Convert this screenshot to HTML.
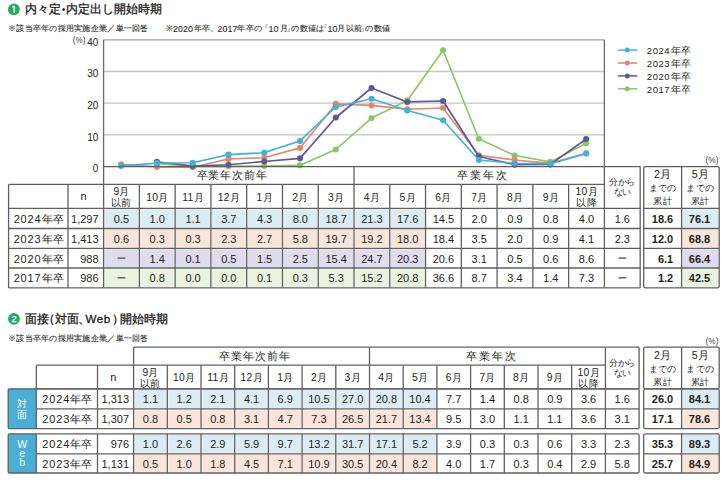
<!DOCTYPE html>
<html><head><meta charset="utf-8"><style>
html,body{margin:0;padding:0;background:#fff;}
body{width:728px;height:485px;position:relative;overflow:hidden;font-family:"Liberation Sans", sans-serif;}
svg{position:absolute;left:0;top:0;}
.t{position:absolute;white-space:nowrap;}
</style></head><body>
<svg width="728" height="485" viewBox="0 0 728 485">
<circle cx="63.6" cy="9.6" r="1.35" fill="#1a1a1a"/>
<circle cx="13.9" cy="9.4" r="5.9" fill="#21ab63"/>
<path d="M14.2 6.00 V12.90 M12.4 7.30 L14.2 6.00" stroke="#fff" stroke-width="1.35" fill="none"/>
<line x1="103.6" y1="134.9" x2="604.4" y2="134.9" stroke="#c4c4c4" stroke-width="1.3"/>
<line x1="103.6" y1="103.19999999999999" x2="604.4" y2="103.19999999999999" stroke="#c4c4c4" stroke-width="1.3"/>
<line x1="103.6" y1="71.5" x2="604.4" y2="71.5" stroke="#c4c4c4" stroke-width="1.3"/>
<line x1="103.6" y1="39.8" x2="604.4" y2="39.8" stroke="#a5a5a5" stroke-width="1.3"/>
<line x1="103.6" y1="39.8" x2="103.6" y2="166.6" stroke="#6a6a6a" stroke-width="1.3"/>
<line x1="604.4" y1="39.8" x2="604.4" y2="166.6" stroke="#6a6a6a" stroke-width="1.3"/>
<polyline fill="none" stroke="#8bc764" stroke-width="1.65" stroke-linejoin="round" points="156.9,163.8 192.7,166.3 228.4,166.3 264.2,166.0 300.0,165.3 335.8,149.5 371.5,118.1 407.3,100.4 443.1,50.3 478.8,138.7 514.6,155.5 550.4,161.9 586.2,143.2"/>
<circle cx="156.91" cy="163.76" r="3.05" fill="#8bc764"/>
<circle cx="192.68" cy="166.30" r="3.05" fill="#8bc764"/>
<circle cx="228.45" cy="166.30" r="3.05" fill="#8bc764"/>
<circle cx="264.22" cy="165.98" r="3.05" fill="#8bc764"/>
<circle cx="299.99" cy="165.35" r="3.05" fill="#8bc764"/>
<circle cx="335.76" cy="149.50" r="3.05" fill="#8bc764"/>
<circle cx="371.54" cy="118.12" r="3.05" fill="#8bc764"/>
<circle cx="407.31" cy="100.36" r="3.05" fill="#8bc764"/>
<circle cx="443.08" cy="50.28" r="3.05" fill="#8bc764"/>
<circle cx="478.85" cy="138.72" r="3.05" fill="#8bc764"/>
<circle cx="514.62" cy="155.52" r="3.05" fill="#8bc764"/>
<circle cx="550.39" cy="161.86" r="3.05" fill="#8bc764"/>
<circle cx="586.16" cy="143.16" r="3.05" fill="#8bc764"/>
<polyline fill="none" stroke="#e5856c" stroke-width="1.65" stroke-linejoin="round" points="121.1,164.4 156.9,166.9 192.7,167.3 228.4,159.0 264.2,157.7 300.0,147.9 335.8,103.9 371.5,105.4 407.3,109.2 443.1,108.0 478.8,155.2 514.6,160.0 550.4,163.4 586.2,153.3"/>
<circle cx="121.14" cy="164.40" r="3.05" fill="#e5856c"/>
<circle cx="156.91" cy="166.93" r="3.05" fill="#e5856c"/>
<circle cx="192.68" cy="167.25" r="3.05" fill="#e5856c"/>
<circle cx="228.45" cy="159.01" r="3.05" fill="#e5856c"/>
<circle cx="264.22" cy="157.74" r="3.05" fill="#e5856c"/>
<circle cx="299.99" cy="147.91" r="3.05" fill="#e5856c"/>
<circle cx="335.76" cy="103.85" r="3.05" fill="#e5856c"/>
<circle cx="371.54" cy="105.44" r="3.05" fill="#e5856c"/>
<circle cx="407.31" cy="109.24" r="3.05" fill="#e5856c"/>
<circle cx="443.08" cy="107.97" r="3.05" fill="#e5856c"/>
<circle cx="478.85" cy="155.20" r="3.05" fill="#e5856c"/>
<circle cx="514.62" cy="159.96" r="3.05" fill="#e5856c"/>
<circle cx="550.39" cy="163.45" r="3.05" fill="#e5856c"/>
<circle cx="586.16" cy="153.30" r="3.05" fill="#e5856c"/>
<polyline fill="none" stroke="#5d5893" stroke-width="1.65" stroke-linejoin="round" points="156.9,161.9 192.7,166.0 228.4,164.7 264.2,161.5 300.0,158.4 335.8,117.5 371.5,88.0 407.3,101.9 443.1,101.0 478.8,156.5 514.6,164.7 550.4,164.4 586.2,139.0"/>
<circle cx="156.91" cy="161.86" r="3.05" fill="#5d5893"/>
<circle cx="192.68" cy="165.98" r="3.05" fill="#5d5893"/>
<circle cx="228.45" cy="164.71" r="3.05" fill="#5d5893"/>
<circle cx="264.22" cy="161.54" r="3.05" fill="#5d5893"/>
<circle cx="299.99" cy="158.37" r="3.05" fill="#5d5893"/>
<circle cx="335.76" cy="117.48" r="3.05" fill="#5d5893"/>
<circle cx="371.54" cy="88.00" r="3.05" fill="#5d5893"/>
<circle cx="407.31" cy="101.95" r="3.05" fill="#5d5893"/>
<circle cx="443.08" cy="101.00" r="3.05" fill="#5d5893"/>
<circle cx="478.85" cy="156.47" r="3.05" fill="#5d5893"/>
<circle cx="514.62" cy="164.71" r="3.05" fill="#5d5893"/>
<circle cx="550.39" cy="164.40" r="3.05" fill="#5d5893"/>
<circle cx="586.16" cy="139.04" r="3.05" fill="#5d5893"/>
<polyline fill="none" stroke="#43b0d9" stroke-width="1.65" stroke-linejoin="round" points="121.1,166.0 156.9,163.1 192.7,162.8 228.4,154.6 264.2,152.7 300.0,140.9 335.8,107.0 371.5,98.8 407.3,110.5 443.1,120.3 478.8,160.0 514.6,163.4 550.4,163.8 586.2,153.6"/>
<circle cx="121.14" cy="165.98" r="3.05" fill="#43b0d9"/>
<circle cx="156.91" cy="163.13" r="3.05" fill="#43b0d9"/>
<circle cx="192.68" cy="162.81" r="3.05" fill="#43b0d9"/>
<circle cx="228.45" cy="154.57" r="3.05" fill="#43b0d9"/>
<circle cx="264.22" cy="152.67" r="3.05" fill="#43b0d9"/>
<circle cx="299.99" cy="140.94" r="3.05" fill="#43b0d9"/>
<circle cx="335.76" cy="107.02" r="3.05" fill="#43b0d9"/>
<circle cx="371.54" cy="98.78" r="3.05" fill="#43b0d9"/>
<circle cx="407.31" cy="110.51" r="3.05" fill="#43b0d9"/>
<circle cx="443.08" cy="120.33" r="3.05" fill="#43b0d9"/>
<circle cx="478.85" cy="159.96" r="3.05" fill="#43b0d9"/>
<circle cx="514.62" cy="163.45" r="3.05" fill="#43b0d9"/>
<circle cx="550.39" cy="163.76" r="3.05" fill="#43b0d9"/>
<circle cx="586.16" cy="153.62" r="3.05" fill="#43b0d9"/>
<line x1="618" y1="50.1" x2="637.4" y2="50.1" stroke="#43b0d9" stroke-width="1.5"/>
<circle cx="627.3" cy="50.1" r="2.5" fill="#43b0d9"/>
<line x1="618" y1="63.0" x2="637.4" y2="63.0" stroke="#e5856c" stroke-width="1.5"/>
<circle cx="627.3" cy="63.0" r="2.5" fill="#e5856c"/>
<line x1="618" y1="75.9" x2="637.4" y2="75.9" stroke="#5d5893" stroke-width="1.5"/>
<circle cx="627.3" cy="75.9" r="2.5" fill="#5d5893"/>
<line x1="618" y1="88.80000000000001" x2="637.4" y2="88.80000000000001" stroke="#8bc764" stroke-width="1.5"/>
<circle cx="627.3" cy="88.80000000000001" r="2.5" fill="#8bc764"/>
<rect x="104.5" y="209.3" width="33.97142857142857" height="18.299999999999994" fill="#dcecf5"/>
<rect x="140.27142857142857" y="209.3" width="33.97142857142857" height="18.299999999999994" fill="#dcecf5"/>
<rect x="176.04285714285712" y="209.3" width="33.97142857142857" height="18.299999999999994" fill="#dcecf5"/>
<rect x="211.8142857142857" y="209.3" width="33.97142857142857" height="18.299999999999994" fill="#dcecf5"/>
<rect x="247.58571428571426" y="209.3" width="33.97142857142857" height="18.299999999999994" fill="#dcecf5"/>
<rect x="283.3571428571428" y="209.3" width="33.97142857142857" height="18.299999999999994" fill="#dcecf5"/>
<rect x="319.1285714285714" y="209.3" width="33.97142857142857" height="18.299999999999994" fill="#dcecf5"/>
<rect x="354.8999999999999" y="209.3" width="33.97142857142857" height="18.299999999999994" fill="#dcecf5"/>
<rect x="390.67142857142846" y="209.3" width="33.97142857142857" height="18.299999999999994" fill="#dcecf5"/>
<rect x="682.5" y="209.3" width="35.800000000000026" height="18.299999999999994" fill="#dcecf5"/>
<rect x="104.5" y="229.4" width="33.97142857142857" height="18.100000000000005" fill="#fbe5db"/>
<rect x="140.27142857142857" y="229.4" width="33.97142857142857" height="18.100000000000005" fill="#fbe5db"/>
<rect x="176.04285714285712" y="229.4" width="33.97142857142857" height="18.100000000000005" fill="#fbe5db"/>
<rect x="211.8142857142857" y="229.4" width="33.97142857142857" height="18.100000000000005" fill="#fbe5db"/>
<rect x="247.58571428571426" y="229.4" width="33.97142857142857" height="18.100000000000005" fill="#fbe5db"/>
<rect x="283.3571428571428" y="229.4" width="33.97142857142857" height="18.100000000000005" fill="#fbe5db"/>
<rect x="319.1285714285714" y="229.4" width="33.97142857142857" height="18.100000000000005" fill="#fbe5db"/>
<rect x="354.8999999999999" y="229.4" width="33.97142857142857" height="18.100000000000005" fill="#fbe5db"/>
<rect x="390.67142857142846" y="229.4" width="33.97142857142857" height="18.100000000000005" fill="#fbe5db"/>
<rect x="682.5" y="229.4" width="35.800000000000026" height="18.100000000000005" fill="#fbe5db"/>
<rect x="104.5" y="249.3" width="33.97142857142857" height="17.799999999999994" fill="#dedced"/>
<rect x="140.27142857142857" y="249.3" width="33.97142857142857" height="17.799999999999994" fill="#dedced"/>
<rect x="176.04285714285712" y="249.3" width="33.97142857142857" height="17.799999999999994" fill="#dedced"/>
<rect x="211.8142857142857" y="249.3" width="33.97142857142857" height="17.799999999999994" fill="#dedced"/>
<rect x="247.58571428571426" y="249.3" width="33.97142857142857" height="17.799999999999994" fill="#dedced"/>
<rect x="283.3571428571428" y="249.3" width="33.97142857142857" height="17.799999999999994" fill="#dedced"/>
<rect x="319.1285714285714" y="249.3" width="33.97142857142857" height="17.799999999999994" fill="#dedced"/>
<rect x="354.8999999999999" y="249.3" width="33.97142857142857" height="17.799999999999994" fill="#dedced"/>
<rect x="390.67142857142846" y="249.3" width="33.97142857142857" height="17.799999999999994" fill="#dedced"/>
<rect x="682.5" y="249.3" width="35.800000000000026" height="17.799999999999994" fill="#dedced"/>
<rect x="104.5" y="268.9" width="33.97142857142857" height="18.099999999999977" fill="#eaf3df"/>
<rect x="140.27142857142857" y="268.9" width="33.97142857142857" height="18.099999999999977" fill="#eaf3df"/>
<rect x="176.04285714285712" y="268.9" width="33.97142857142857" height="18.099999999999977" fill="#eaf3df"/>
<rect x="211.8142857142857" y="268.9" width="33.97142857142857" height="18.099999999999977" fill="#eaf3df"/>
<rect x="247.58571428571426" y="268.9" width="33.97142857142857" height="18.099999999999977" fill="#eaf3df"/>
<rect x="283.3571428571428" y="268.9" width="33.97142857142857" height="18.099999999999977" fill="#eaf3df"/>
<rect x="319.1285714285714" y="268.9" width="33.97142857142857" height="18.099999999999977" fill="#eaf3df"/>
<rect x="354.8999999999999" y="268.9" width="33.97142857142857" height="18.099999999999977" fill="#eaf3df"/>
<rect x="390.67142857142846" y="268.9" width="33.97142857142857" height="18.099999999999977" fill="#eaf3df"/>
<rect x="682.5" y="268.9" width="35.800000000000026" height="18.099999999999977" fill="#eaf3df"/>
<line x1="103.6" y1="166.6" x2="640.1714285714286" y2="166.6" stroke="#606060" stroke-width="1.3"/>
<line x1="353.99999999999994" y1="166.6" x2="353.99999999999994" y2="287.9" stroke="#606060" stroke-width="1.3"/>
<line x1="103.6" y1="166.6" x2="103.6" y2="287.9" stroke="#606060" stroke-width="1.3"/>
<line x1="604.4" y1="166.6" x2="604.4" y2="287.9" stroke="#606060" stroke-width="1.3"/>
<line x1="640.1714285714286" y1="166.6" x2="640.1714285714286" y2="287.9" stroke="#606060" stroke-width="1.3"/>
<line x1="8.6" y1="184.4" x2="604.4" y2="184.4" stroke="#606060" stroke-width="1.3"/>
<line x1="8.6" y1="184.4" x2="8.6" y2="287.9" stroke="#606060" stroke-width="1.3"/>
<line x1="68.0" y1="184.4" x2="68.0" y2="287.9" stroke="#606060" stroke-width="1.3"/>
<line x1="139.37142857142857" y1="184.4" x2="139.37142857142857" y2="287.9" stroke="#606060" stroke-width="1.3"/>
<line x1="175.1428571428571" y1="184.4" x2="175.1428571428571" y2="287.9" stroke="#606060" stroke-width="1.3"/>
<line x1="210.91428571428568" y1="184.4" x2="210.91428571428568" y2="287.9" stroke="#606060" stroke-width="1.3"/>
<line x1="246.68571428571425" y1="184.4" x2="246.68571428571425" y2="287.9" stroke="#606060" stroke-width="1.3"/>
<line x1="282.4571428571428" y1="184.4" x2="282.4571428571428" y2="287.9" stroke="#606060" stroke-width="1.3"/>
<line x1="318.2285714285714" y1="184.4" x2="318.2285714285714" y2="287.9" stroke="#606060" stroke-width="1.3"/>
<line x1="389.7714285714285" y1="184.4" x2="389.7714285714285" y2="287.9" stroke="#606060" stroke-width="1.3"/>
<line x1="425.5428571428571" y1="184.4" x2="425.5428571428571" y2="287.9" stroke="#606060" stroke-width="1.3"/>
<line x1="461.3142857142857" y1="184.4" x2="461.3142857142857" y2="287.9" stroke="#606060" stroke-width="1.3"/>
<line x1="497.0857142857142" y1="184.4" x2="497.0857142857142" y2="287.9" stroke="#606060" stroke-width="1.3"/>
<line x1="532.8571428571428" y1="184.4" x2="532.8571428571428" y2="287.9" stroke="#606060" stroke-width="1.3"/>
<line x1="568.6285714285714" y1="184.4" x2="568.6285714285714" y2="287.9" stroke="#606060" stroke-width="1.3"/>
<line x1="8.6" y1="208.4" x2="640.1714285714286" y2="208.4" stroke="#606060" stroke-width="1.3"/>
<line x1="8.6" y1="228.5" x2="640.1714285714286" y2="228.5" stroke="#606060" stroke-width="1.3"/>
<line x1="8.6" y1="248.4" x2="640.1714285714286" y2="248.4" stroke="#606060" stroke-width="1.3"/>
<line x1="8.6" y1="268.0" x2="640.1714285714286" y2="268.0" stroke="#606060" stroke-width="1.3"/>
<line x1="8.6" y1="287.9" x2="640.1714285714286" y2="287.9" stroke="#606060" stroke-width="1.3"/>
<rect x="643.7" y="166.6" width="75.5" height="121.29999999999998" rx="1.5" fill="none" stroke="#606060" stroke-width="1.3"/>
<line x1="681.6" y1="166.6" x2="681.6" y2="287.9" stroke="#606060" stroke-width="1.3"/>
<line x1="643.7" y1="208.4" x2="719.2" y2="208.4" stroke="#606060" stroke-width="1.3"/>
<line x1="643.7" y1="228.5" x2="719.2" y2="228.5" stroke="#606060" stroke-width="1.3"/>
<line x1="643.7" y1="248.4" x2="719.2" y2="248.4" stroke="#606060" stroke-width="1.3"/>
<line x1="643.7" y1="268.0" x2="719.2" y2="268.0" stroke="#606060" stroke-width="1.3"/>
<rect x="117.59" y="257.45" width="7.8" height="1.25" fill="#484848"/>
<rect x="618.39" y="257.45" width="7.8" height="1.25" fill="#484848"/>
<rect x="117.59" y="277.20" width="7.8" height="1.25" fill="#484848"/>
<rect x="618.39" y="277.20" width="7.8" height="1.25" fill="#484848"/>
<circle cx="13.9" cy="318.9" r="5.9" fill="#21ab63"/>
<rect x="134.5" y="389.7" width="31.899999999999995" height="18.2" fill="#dcecf5"/>
<rect x="168.2" y="389.7" width="31.899999999999995" height="18.2" fill="#dcecf5"/>
<rect x="201.9" y="389.7" width="31.899999999999995" height="18.2" fill="#dcecf5"/>
<rect x="235.6" y="389.7" width="31.899999999999995" height="18.2" fill="#dcecf5"/>
<rect x="269.29999999999995" y="389.7" width="31.899999999999995" height="18.2" fill="#dcecf5"/>
<rect x="302.99999999999994" y="389.7" width="31.899999999999995" height="18.2" fill="#dcecf5"/>
<rect x="336.69999999999993" y="389.7" width="31.899999999999995" height="18.2" fill="#dcecf5"/>
<rect x="370.4" y="389.7" width="31.899999999999995" height="18.2" fill="#dcecf5"/>
<rect x="404.0999999999999" y="389.7" width="31.899999999999995" height="18.2" fill="#dcecf5"/>
<rect x="682.5" y="389.7" width="35.800000000000026" height="18.2" fill="#dcecf5"/>
<rect x="134.5" y="409.7" width="31.899999999999995" height="18.099999999999977" fill="#fbe5db"/>
<rect x="168.2" y="409.7" width="31.899999999999995" height="18.099999999999977" fill="#fbe5db"/>
<rect x="201.9" y="409.7" width="31.899999999999995" height="18.099999999999977" fill="#fbe5db"/>
<rect x="235.6" y="409.7" width="31.899999999999995" height="18.099999999999977" fill="#fbe5db"/>
<rect x="269.29999999999995" y="409.7" width="31.899999999999995" height="18.099999999999977" fill="#fbe5db"/>
<rect x="302.99999999999994" y="409.7" width="31.899999999999995" height="18.099999999999977" fill="#fbe5db"/>
<rect x="336.69999999999993" y="409.7" width="31.899999999999995" height="18.099999999999977" fill="#fbe5db"/>
<rect x="370.4" y="409.7" width="31.899999999999995" height="18.099999999999977" fill="#fbe5db"/>
<rect x="404.0999999999999" y="409.7" width="31.899999999999995" height="18.099999999999977" fill="#fbe5db"/>
<rect x="682.5" y="409.7" width="35.800000000000026" height="18.099999999999977" fill="#fbe5db"/>
<rect x="8.2" y="388.8" width="28.099999999999998" height="39.89999999999998" fill="#4aaed5"/>
<rect x="134.5" y="434.7" width="31.899999999999995" height="18.2" fill="#dcecf5"/>
<rect x="168.2" y="434.7" width="31.899999999999995" height="18.2" fill="#dcecf5"/>
<rect x="201.9" y="434.7" width="31.899999999999995" height="18.2" fill="#dcecf5"/>
<rect x="235.6" y="434.7" width="31.899999999999995" height="18.2" fill="#dcecf5"/>
<rect x="269.29999999999995" y="434.7" width="31.899999999999995" height="18.2" fill="#dcecf5"/>
<rect x="302.99999999999994" y="434.7" width="31.899999999999995" height="18.2" fill="#dcecf5"/>
<rect x="336.69999999999993" y="434.7" width="31.899999999999995" height="18.2" fill="#dcecf5"/>
<rect x="370.4" y="434.7" width="31.899999999999995" height="18.2" fill="#dcecf5"/>
<rect x="404.0999999999999" y="434.7" width="31.899999999999995" height="18.2" fill="#dcecf5"/>
<rect x="682.5" y="434.7" width="35.800000000000026" height="18.2" fill="#dcecf5"/>
<rect x="134.5" y="454.7" width="31.899999999999995" height="17.399999999999988" fill="#fbe5db"/>
<rect x="168.2" y="454.7" width="31.899999999999995" height="17.399999999999988" fill="#fbe5db"/>
<rect x="201.9" y="454.7" width="31.899999999999995" height="17.399999999999988" fill="#fbe5db"/>
<rect x="235.6" y="454.7" width="31.899999999999995" height="17.399999999999988" fill="#fbe5db"/>
<rect x="269.29999999999995" y="454.7" width="31.899999999999995" height="17.399999999999988" fill="#fbe5db"/>
<rect x="302.99999999999994" y="454.7" width="31.899999999999995" height="17.399999999999988" fill="#fbe5db"/>
<rect x="336.69999999999993" y="454.7" width="31.899999999999995" height="17.399999999999988" fill="#fbe5db"/>
<rect x="370.4" y="454.7" width="31.899999999999995" height="17.399999999999988" fill="#fbe5db"/>
<rect x="404.0999999999999" y="454.7" width="31.899999999999995" height="17.399999999999988" fill="#fbe5db"/>
<rect x="682.5" y="454.7" width="35.800000000000026" height="17.399999999999988" fill="#fbe5db"/>
<rect x="8.2" y="433.8" width="28.099999999999998" height="39.19999999999999" fill="#4aaed5"/>
<line x1="133.6" y1="347.2" x2="639.1" y2="347.2" stroke="#606060" stroke-width="1.3"/>
<line x1="133.6" y1="347.2" x2="133.6" y2="388.8" stroke="#606060" stroke-width="1.3"/>
<line x1="369.5" y1="347.2" x2="369.5" y2="388.8" stroke="#606060" stroke-width="1.3"/>
<line x1="605.4" y1="347.2" x2="605.4" y2="388.8" stroke="#606060" stroke-width="1.3"/>
<line x1="639.1" y1="347.2" x2="639.1" y2="388.8" stroke="#606060" stroke-width="1.3"/>
<line x1="36.3" y1="365.2" x2="605.4" y2="365.2" stroke="#606060" stroke-width="1.3"/>
<line x1="36.3" y1="365.2" x2="36.3" y2="388.8" stroke="#606060" stroke-width="1.3"/>
<line x1="97.5" y1="365.2" x2="97.5" y2="388.8" stroke="#606060" stroke-width="1.3"/>
<line x1="167.29999999999998" y1="365.2" x2="167.29999999999998" y2="388.8" stroke="#606060" stroke-width="1.3"/>
<line x1="201.0" y1="365.2" x2="201.0" y2="388.8" stroke="#606060" stroke-width="1.3"/>
<line x1="234.7" y1="365.2" x2="234.7" y2="388.8" stroke="#606060" stroke-width="1.3"/>
<line x1="268.4" y1="365.2" x2="268.4" y2="388.8" stroke="#606060" stroke-width="1.3"/>
<line x1="302.09999999999997" y1="365.2" x2="302.09999999999997" y2="388.8" stroke="#606060" stroke-width="1.3"/>
<line x1="335.79999999999995" y1="365.2" x2="335.79999999999995" y2="388.8" stroke="#606060" stroke-width="1.3"/>
<line x1="403.19999999999993" y1="365.2" x2="403.19999999999993" y2="388.8" stroke="#606060" stroke-width="1.3"/>
<line x1="436.9" y1="365.2" x2="436.9" y2="388.8" stroke="#606060" stroke-width="1.3"/>
<line x1="470.5999999999999" y1="365.2" x2="470.5999999999999" y2="388.8" stroke="#606060" stroke-width="1.3"/>
<line x1="504.29999999999995" y1="365.2" x2="504.29999999999995" y2="388.8" stroke="#606060" stroke-width="1.3"/>
<line x1="538.0" y1="365.2" x2="538.0" y2="388.8" stroke="#606060" stroke-width="1.3"/>
<line x1="571.6999999999999" y1="365.2" x2="571.6999999999999" y2="388.8" stroke="#606060" stroke-width="1.3"/>
<line x1="36.3" y1="388.8" x2="639.1" y2="388.8" stroke="#606060" stroke-width="1.3"/>
<rect x="643.7" y="347.2" width="75.5" height="41.60000000000002" rx="1.5" fill="none" stroke="#606060" stroke-width="1.3"/>
<line x1="681.6" y1="347.2" x2="681.6" y2="388.8" stroke="#606060" stroke-width="1.3"/>
<rect x="8.2" y="388.8" width="630.9" height="39.89999999999998" rx="1.2" fill="none" stroke="#606060" stroke-width="1.3"/>
<line x1="36.3" y1="408.8" x2="639.1" y2="408.8" stroke="#606060" stroke-width="1.3"/>
<line x1="36.3" y1="388.8" x2="36.3" y2="428.7" stroke="#606060" stroke-width="1.3"/>
<line x1="97.5" y1="388.8" x2="97.5" y2="428.7" stroke="#606060" stroke-width="1.3"/>
<line x1="133.6" y1="388.8" x2="133.6" y2="428.7" stroke="#606060" stroke-width="1.3"/>
<line x1="167.29999999999998" y1="388.8" x2="167.29999999999998" y2="428.7" stroke="#606060" stroke-width="1.3"/>
<line x1="201.0" y1="388.8" x2="201.0" y2="428.7" stroke="#606060" stroke-width="1.3"/>
<line x1="234.7" y1="388.8" x2="234.7" y2="428.7" stroke="#606060" stroke-width="1.3"/>
<line x1="268.4" y1="388.8" x2="268.4" y2="428.7" stroke="#606060" stroke-width="1.3"/>
<line x1="302.09999999999997" y1="388.8" x2="302.09999999999997" y2="428.7" stroke="#606060" stroke-width="1.3"/>
<line x1="335.79999999999995" y1="388.8" x2="335.79999999999995" y2="428.7" stroke="#606060" stroke-width="1.3"/>
<line x1="369.5" y1="388.8" x2="369.5" y2="428.7" stroke="#606060" stroke-width="1.3"/>
<line x1="403.19999999999993" y1="388.8" x2="403.19999999999993" y2="428.7" stroke="#606060" stroke-width="1.3"/>
<line x1="436.9" y1="388.8" x2="436.9" y2="428.7" stroke="#606060" stroke-width="1.3"/>
<line x1="470.5999999999999" y1="388.8" x2="470.5999999999999" y2="428.7" stroke="#606060" stroke-width="1.3"/>
<line x1="504.29999999999995" y1="388.8" x2="504.29999999999995" y2="428.7" stroke="#606060" stroke-width="1.3"/>
<line x1="538.0" y1="388.8" x2="538.0" y2="428.7" stroke="#606060" stroke-width="1.3"/>
<line x1="571.6999999999999" y1="388.8" x2="571.6999999999999" y2="428.7" stroke="#606060" stroke-width="1.3"/>
<line x1="605.4" y1="388.8" x2="605.4" y2="428.7" stroke="#606060" stroke-width="1.3"/>
<rect x="643.7" y="388.8" width="75.5" height="39.89999999999998" rx="1.5" fill="none" stroke="#606060" stroke-width="1.3"/>
<line x1="643.7" y1="408.8" x2="719.2" y2="408.8" stroke="#606060" stroke-width="1.3"/>
<line x1="681.6" y1="388.8" x2="681.6" y2="428.7" stroke="#606060" stroke-width="1.3"/>
<rect x="8.2" y="433.8" width="630.9" height="39.19999999999999" rx="1.2" fill="none" stroke="#606060" stroke-width="1.3"/>
<line x1="36.3" y1="453.8" x2="639.1" y2="453.8" stroke="#606060" stroke-width="1.3"/>
<line x1="36.3" y1="433.8" x2="36.3" y2="473.0" stroke="#606060" stroke-width="1.3"/>
<line x1="97.5" y1="433.8" x2="97.5" y2="473.0" stroke="#606060" stroke-width="1.3"/>
<line x1="133.6" y1="433.8" x2="133.6" y2="473.0" stroke="#606060" stroke-width="1.3"/>
<line x1="167.29999999999998" y1="433.8" x2="167.29999999999998" y2="473.0" stroke="#606060" stroke-width="1.3"/>
<line x1="201.0" y1="433.8" x2="201.0" y2="473.0" stroke="#606060" stroke-width="1.3"/>
<line x1="234.7" y1="433.8" x2="234.7" y2="473.0" stroke="#606060" stroke-width="1.3"/>
<line x1="268.4" y1="433.8" x2="268.4" y2="473.0" stroke="#606060" stroke-width="1.3"/>
<line x1="302.09999999999997" y1="433.8" x2="302.09999999999997" y2="473.0" stroke="#606060" stroke-width="1.3"/>
<line x1="335.79999999999995" y1="433.8" x2="335.79999999999995" y2="473.0" stroke="#606060" stroke-width="1.3"/>
<line x1="369.5" y1="433.8" x2="369.5" y2="473.0" stroke="#606060" stroke-width="1.3"/>
<line x1="403.19999999999993" y1="433.8" x2="403.19999999999993" y2="473.0" stroke="#606060" stroke-width="1.3"/>
<line x1="436.9" y1="433.8" x2="436.9" y2="473.0" stroke="#606060" stroke-width="1.3"/>
<line x1="470.5999999999999" y1="433.8" x2="470.5999999999999" y2="473.0" stroke="#606060" stroke-width="1.3"/>
<line x1="504.29999999999995" y1="433.8" x2="504.29999999999995" y2="473.0" stroke="#606060" stroke-width="1.3"/>
<line x1="538.0" y1="433.8" x2="538.0" y2="473.0" stroke="#606060" stroke-width="1.3"/>
<line x1="571.6999999999999" y1="433.8" x2="571.6999999999999" y2="473.0" stroke="#606060" stroke-width="1.3"/>
<line x1="605.4" y1="433.8" x2="605.4" y2="473.0" stroke="#606060" stroke-width="1.3"/>
<rect x="643.7" y="433.8" width="75.5" height="39.19999999999999" rx="1.5" fill="none" stroke="#606060" stroke-width="1.3"/>
<line x1="643.7" y1="453.8" x2="719.2" y2="453.8" stroke="#606060" stroke-width="1.3"/>
<line x1="681.6" y1="433.8" x2="681.6" y2="473.0" stroke="#606060" stroke-width="1.3"/>
</svg>
<div class="t" style="left:25.0px;top:1.0000000000000004px;width:120px;height:16px;font-size:11.6px;line-height:16px;text-align:left;color:#1a1a1a;-webkit-text-stroke:0.3px #1a1a1a;">内々定</div>
<div class="t" style="left:65.9px;top:1.0000000000000004px;width:120px;height:16px;font-size:11.6px;line-height:16px;text-align:left;color:#1a1a1a;-webkit-text-stroke:0.3px #1a1a1a;">内定出し開始時期</div>
<div class="t" style="left:8.0px;top:24.0px;width:400px;height:10px;font-size:8px;line-height:10px;text-align:left;color:#2a2a2a;letter-spacing:0.27px;-webkit-text-stroke:0.1px #2a2a2a;">※該当卒年の採用実施企業／単一回答</div>
<div class="t" style="left:166.4px;top:24.0px;width:60px;height:10px;font-size:8px;line-height:10px;text-align:left;color:#2a2a2a;letter-spacing:0.25px;-webkit-text-stroke:0.1px #2a2a2a;">※</div>
<div class="t" style="left:173.0px;top:24.0px;width:60px;height:10px;font-size:8.9px;line-height:10px;text-align:left;color:#2a2a2a;letter-spacing:0.1px;-webkit-text-stroke:0.1px #2a2a2a;">2020</div>
<div class="t" style="left:193.6px;top:24.0px;width:60px;height:10px;font-size:8px;line-height:10px;text-align:left;color:#2a2a2a;letter-spacing:0.25px;-webkit-text-stroke:0.1px #2a2a2a;">年卒、</div>
<div class="t" style="left:217.5px;top:24.0px;width:60px;height:10px;font-size:8.9px;line-height:10px;text-align:left;color:#2a2a2a;letter-spacing:0.1px;-webkit-text-stroke:0.1px #2a2a2a;">2017</div>
<div class="t" style="left:237.3px;top:24.0px;width:60px;height:10px;font-size:8px;line-height:10px;text-align:left;color:#2a2a2a;letter-spacing:0.25px;-webkit-text-stroke:0.1px #2a2a2a;">年卒の</div>
<div class="t" style="left:261.3px;top:24.0px;width:60px;height:10px;font-size:8px;line-height:10px;text-align:left;color:#2a2a2a;letter-spacing:0.25px;-webkit-text-stroke:0.1px #2a2a2a;">「</div>
<div class="t" style="left:268.5px;top:24.0px;width:60px;height:10px;font-size:8.9px;line-height:10px;text-align:left;color:#2a2a2a;letter-spacing:0.1px;-webkit-text-stroke:0.1px #2a2a2a;">10</div>
<div class="t" style="left:279.8px;top:24.0px;width:60px;height:10px;font-size:8px;line-height:10px;text-align:left;color:#2a2a2a;letter-spacing:0.25px;-webkit-text-stroke:0.1px #2a2a2a;">月</div>
<div class="t" style="left:286.3px;top:24.0px;width:60px;height:10px;font-size:8px;line-height:10px;text-align:left;color:#2a2a2a;letter-spacing:0.25px;-webkit-text-stroke:0.1px #2a2a2a;">」</div>
<div class="t" style="left:291.3px;top:24.0px;width:60px;height:10px;font-size:8px;line-height:10px;text-align:left;color:#2a2a2a;letter-spacing:0.25px;-webkit-text-stroke:0.1px #2a2a2a;">の数値は</div>
<div class="t" style="left:320.3px;top:24.0px;width:60px;height:10px;font-size:8px;line-height:10px;text-align:left;color:#2a2a2a;letter-spacing:0.25px;-webkit-text-stroke:0.1px #2a2a2a;">「</div>
<div class="t" style="left:327.5px;top:24.0px;width:60px;height:10px;font-size:8.9px;line-height:10px;text-align:left;color:#2a2a2a;letter-spacing:0.1px;-webkit-text-stroke:0.1px #2a2a2a;">10</div>
<div class="t" style="left:337.4px;top:24.0px;width:60px;height:10px;font-size:8px;line-height:10px;text-align:left;color:#2a2a2a;letter-spacing:0.25px;-webkit-text-stroke:0.1px #2a2a2a;">月以前</div>
<div class="t" style="left:360.4px;top:24.0px;width:60px;height:10px;font-size:8px;line-height:10px;text-align:left;color:#2a2a2a;letter-spacing:0.25px;-webkit-text-stroke:0.1px #2a2a2a;">」</div>
<div class="t" style="left:365.4px;top:24.0px;width:60px;height:10px;font-size:8px;line-height:10px;text-align:left;color:#2a2a2a;letter-spacing:0.25px;-webkit-text-stroke:0.1px #2a2a2a;">の数値</div>
<div class="t" style="left:60px;top:163.29999999999998px;width:38.3px;height:11px;font-size:10px;line-height:11px;text-align:right;color:#231f20;">0</div>
<div class="t" style="left:60px;top:131.6px;width:38.3px;height:11px;font-size:10px;line-height:11px;text-align:right;color:#231f20;">10</div>
<div class="t" style="left:60px;top:99.89999999999999px;width:38.3px;height:11px;font-size:10px;line-height:11px;text-align:right;color:#231f20;">20</div>
<div class="t" style="left:60px;top:68.2px;width:38.3px;height:11px;font-size:10px;line-height:11px;text-align:right;color:#231f20;">30</div>
<div class="t" style="left:60px;top:36.5px;width:38.3px;height:11px;font-size:10px;line-height:11px;text-align:right;color:#231f20;">40</div>
<div class="t" style="left:60px;top:35.5px;width:25.5px;height:10px;font-size:8.2px;line-height:10px;text-align:right;color:#444;">(%)</div>
<div class="t" style="left:646.8px;top:44.9px;width:60px;height:12px;font-size:9.5px;line-height:12px;text-align:left;color:#231f20;"><span style="letter-spacing:0.55px">2024</span><span style="margin-left:1.3px">年卒</span></div>
<div class="t" style="left:646.8px;top:57.8px;width:60px;height:12px;font-size:9.5px;line-height:12px;text-align:left;color:#231f20;"><span style="letter-spacing:0.55px">2023</span><span style="margin-left:1.3px">年卒</span></div>
<div class="t" style="left:646.8px;top:70.7px;width:60px;height:12px;font-size:9.5px;line-height:12px;text-align:left;color:#231f20;"><span style="letter-spacing:0.55px">2020</span><span style="margin-left:1.3px">年卒</span></div>
<div class="t" style="left:646.8px;top:83.60000000000001px;width:60px;height:12px;font-size:9.5px;line-height:12px;text-align:left;color:#231f20;"><span style="letter-spacing:0.55px">2017</span><span style="margin-left:1.3px">年卒</span></div>
<div class="t" style="left:107.1px;top:167.4px;width:250.39999999999995px;height:17.80000000000001px;font-size:10.8px;line-height:17.80000000000001px;text-align:center;color:#231f20;letter-spacing:0.9px;">卒業年次前年</div>
<div class="t" style="left:358.19999999999993px;top:167.4px;width:250.39999999999995px;height:17.80000000000001px;font-size:10.8px;line-height:17.80000000000001px;text-align:center;color:#231f20;letter-spacing:2.0px;">卒業年次</div>
<div class="t" style="left:103.6px;top:186.20000000000002px;width:35.771428571428565px;height:22.4px;font-size:10.3px;line-height:11.2px;text-align:center;color:#231f20;letter-spacing:0.35px;text-indent:0.35px;">9月<br>以前</div>
<div class="t" style="left:139.37142857142857px;top:191.8px;width:35.771428571428565px;height:11.2px;font-size:10.3px;line-height:11.2px;text-align:center;color:#231f20;letter-spacing:0.35px;text-indent:0.35px;">10月</div>
<div class="t" style="left:175.1428571428571px;top:191.8px;width:35.771428571428565px;height:11.2px;font-size:10.3px;line-height:11.2px;text-align:center;color:#231f20;letter-spacing:0.35px;text-indent:0.35px;">11月</div>
<div class="t" style="left:210.91428571428568px;top:191.8px;width:35.771428571428565px;height:11.2px;font-size:10.3px;line-height:11.2px;text-align:center;color:#231f20;letter-spacing:0.35px;text-indent:0.35px;">12月</div>
<div class="t" style="left:246.68571428571425px;top:191.8px;width:35.771428571428565px;height:11.2px;font-size:10.3px;line-height:11.2px;text-align:center;color:#231f20;letter-spacing:0.35px;text-indent:0.35px;">1月</div>
<div class="t" style="left:282.4571428571428px;top:191.8px;width:35.771428571428565px;height:11.2px;font-size:10.3px;line-height:11.2px;text-align:center;color:#231f20;letter-spacing:0.35px;text-indent:0.35px;">2月</div>
<div class="t" style="left:318.2285714285714px;top:191.8px;width:35.771428571428565px;height:11.2px;font-size:10.3px;line-height:11.2px;text-align:center;color:#231f20;letter-spacing:0.35px;text-indent:0.35px;">3月</div>
<div class="t" style="left:353.99999999999994px;top:191.8px;width:35.771428571428565px;height:11.2px;font-size:10.3px;line-height:11.2px;text-align:center;color:#231f20;letter-spacing:0.35px;text-indent:0.35px;">4月</div>
<div class="t" style="left:389.7714285714285px;top:191.8px;width:35.771428571428565px;height:11.2px;font-size:10.3px;line-height:11.2px;text-align:center;color:#231f20;letter-spacing:0.35px;text-indent:0.35px;">5月</div>
<div class="t" style="left:425.5428571428571px;top:191.8px;width:35.771428571428565px;height:11.2px;font-size:10.3px;line-height:11.2px;text-align:center;color:#231f20;letter-spacing:0.35px;text-indent:0.35px;">6月</div>
<div class="t" style="left:461.3142857142857px;top:191.8px;width:35.771428571428565px;height:11.2px;font-size:10.3px;line-height:11.2px;text-align:center;color:#231f20;letter-spacing:0.35px;text-indent:0.35px;">7月</div>
<div class="t" style="left:497.0857142857142px;top:191.8px;width:35.771428571428565px;height:11.2px;font-size:10.3px;line-height:11.2px;text-align:center;color:#231f20;letter-spacing:0.35px;text-indent:0.35px;">8月</div>
<div class="t" style="left:532.8571428571428px;top:191.8px;width:35.771428571428565px;height:11.2px;font-size:10.3px;line-height:11.2px;text-align:center;color:#231f20;letter-spacing:0.35px;text-indent:0.35px;">9月</div>
<div class="t" style="left:568.6285714285714px;top:186.20000000000002px;width:35.771428571428565px;height:22.4px;font-size:10.3px;line-height:11.2px;text-align:center;color:#231f20;letter-spacing:0.35px;text-indent:0.35px;">10月<br>以降</div>
<div class="t" style="left:604.4px;top:178.4px;width:35.771428571428565px;height:19.8px;font-size:9px;line-height:9.9px;text-align:center;color:#231f20;letter-spacing:-0.5px;text-indent:-0.5px;">分から<br>ない</div>
<div class="t" style="left:65.7px;top:191.4px;width:35.599999999999994px;height:11.2px;font-size:11px;line-height:11.2px;text-align:center;color:#231f20;text-indent:0px;">n</div>
<div class="t" style="left:643.7px;top:168.4px;width:37.89999999999998px;height:39.0px;font-size:9.2px;line-height:13.0px;text-align:center;color:#231f20;letter-spacing:0.35px;text-indent:0.35px;"><span style="font-size:10.6px">2月</span><br>までの<br>累計</div>
<div class="t" style="left:681.6px;top:168.4px;width:37.60000000000002px;height:39.0px;font-size:9.2px;line-height:13.0px;text-align:center;color:#231f20;letter-spacing:0.35px;text-indent:0.35px;"><span style="font-size:10.6px">5月</span><br>までの<br>累計</div>
<div class="t" style="left:689.5px;top:154.6px;width:29px;height:10px;font-size:8.3px;line-height:10px;text-align:right;color:#444;">(%)</div>
<div class="t" style="left:8.9px;top:211.75px;width:59.4px;height:14px;font-size:11px;line-height:14px;text-align:center;color:#231f20;"><span style="letter-spacing:0.85px">2024</span>年卒</div>
<div class="t" style="left:68.0px;top:211.75px;width:30.599999999999994px;height:14px;font-size:11px;line-height:14px;text-align:right;color:#231f20;">1,297</div>
<div class="t" style="left:103.6px;top:211.75px;width:35.771428571428565px;height:14px;font-size:11px;line-height:14px;text-align:center;color:#231f20;">0.5</div>
<div class="t" style="left:139.37142857142857px;top:211.75px;width:35.771428571428565px;height:14px;font-size:11px;line-height:14px;text-align:center;color:#231f20;">1.0</div>
<div class="t" style="left:175.1428571428571px;top:211.75px;width:35.771428571428565px;height:14px;font-size:11px;line-height:14px;text-align:center;color:#231f20;">1.1</div>
<div class="t" style="left:210.91428571428568px;top:211.75px;width:35.771428571428565px;height:14px;font-size:11px;line-height:14px;text-align:center;color:#231f20;">3.7</div>
<div class="t" style="left:246.68571428571425px;top:211.75px;width:35.771428571428565px;height:14px;font-size:11px;line-height:14px;text-align:center;color:#231f20;">4.3</div>
<div class="t" style="left:282.4571428571428px;top:211.75px;width:35.771428571428565px;height:14px;font-size:11px;line-height:14px;text-align:center;color:#231f20;">8.0</div>
<div class="t" style="left:318.2285714285714px;top:211.75px;width:35.771428571428565px;height:14px;font-size:11px;line-height:14px;text-align:center;color:#231f20;">18.7</div>
<div class="t" style="left:353.99999999999994px;top:211.75px;width:35.771428571428565px;height:14px;font-size:11px;line-height:14px;text-align:center;color:#231f20;">21.3</div>
<div class="t" style="left:389.7714285714285px;top:211.75px;width:35.771428571428565px;height:14px;font-size:11px;line-height:14px;text-align:center;color:#231f20;">17.6</div>
<div class="t" style="left:425.5428571428571px;top:211.75px;width:35.771428571428565px;height:14px;font-size:11px;line-height:14px;text-align:center;color:#231f20;">14.5</div>
<div class="t" style="left:461.3142857142857px;top:211.75px;width:35.771428571428565px;height:14px;font-size:11px;line-height:14px;text-align:center;color:#231f20;">2.0</div>
<div class="t" style="left:497.0857142857142px;top:211.75px;width:35.771428571428565px;height:14px;font-size:11px;line-height:14px;text-align:center;color:#231f20;">0.9</div>
<div class="t" style="left:532.8571428571428px;top:211.75px;width:35.771428571428565px;height:14px;font-size:11px;line-height:14px;text-align:center;color:#231f20;">0.8</div>
<div class="t" style="left:568.6285714285714px;top:211.75px;width:35.771428571428565px;height:14px;font-size:11px;line-height:14px;text-align:center;color:#231f20;">4.0</div>
<div class="t" style="left:604.3999999999999px;top:211.75px;width:35.771428571428565px;height:14px;font-size:11px;line-height:14px;text-align:center;color:#231f20;">1.6</div>
<div class="t" style="left:643.7px;top:211.75px;width:29.49999999999998px;height:14px;font-size:11px;line-height:14px;text-align:right;color:#231f20;font-weight:bold;">18.6</div>
<div class="t" style="left:681.6px;top:211.75px;width:28.600000000000023px;height:14px;font-size:11px;line-height:14px;text-align:right;color:#231f20;font-weight:bold;">76.1</div>
<div class="t" style="left:8.9px;top:231.75px;width:59.4px;height:14px;font-size:11px;line-height:14px;text-align:center;color:#231f20;"><span style="letter-spacing:0.85px">2023</span>年卒</div>
<div class="t" style="left:68.0px;top:231.75px;width:30.599999999999994px;height:14px;font-size:11px;line-height:14px;text-align:right;color:#231f20;">1,413</div>
<div class="t" style="left:103.6px;top:231.75px;width:35.771428571428565px;height:14px;font-size:11px;line-height:14px;text-align:center;color:#231f20;">0.6</div>
<div class="t" style="left:139.37142857142857px;top:231.75px;width:35.771428571428565px;height:14px;font-size:11px;line-height:14px;text-align:center;color:#231f20;">0.3</div>
<div class="t" style="left:175.1428571428571px;top:231.75px;width:35.771428571428565px;height:14px;font-size:11px;line-height:14px;text-align:center;color:#231f20;">0.3</div>
<div class="t" style="left:210.91428571428568px;top:231.75px;width:35.771428571428565px;height:14px;font-size:11px;line-height:14px;text-align:center;color:#231f20;">2.3</div>
<div class="t" style="left:246.68571428571425px;top:231.75px;width:35.771428571428565px;height:14px;font-size:11px;line-height:14px;text-align:center;color:#231f20;">2.7</div>
<div class="t" style="left:282.4571428571428px;top:231.75px;width:35.771428571428565px;height:14px;font-size:11px;line-height:14px;text-align:center;color:#231f20;">5.8</div>
<div class="t" style="left:318.2285714285714px;top:231.75px;width:35.771428571428565px;height:14px;font-size:11px;line-height:14px;text-align:center;color:#231f20;">19.7</div>
<div class="t" style="left:353.99999999999994px;top:231.75px;width:35.771428571428565px;height:14px;font-size:11px;line-height:14px;text-align:center;color:#231f20;">19.2</div>
<div class="t" style="left:389.7714285714285px;top:231.75px;width:35.771428571428565px;height:14px;font-size:11px;line-height:14px;text-align:center;color:#231f20;">18.0</div>
<div class="t" style="left:425.5428571428571px;top:231.75px;width:35.771428571428565px;height:14px;font-size:11px;line-height:14px;text-align:center;color:#231f20;">18.4</div>
<div class="t" style="left:461.3142857142857px;top:231.75px;width:35.771428571428565px;height:14px;font-size:11px;line-height:14px;text-align:center;color:#231f20;">3.5</div>
<div class="t" style="left:497.0857142857142px;top:231.75px;width:35.771428571428565px;height:14px;font-size:11px;line-height:14px;text-align:center;color:#231f20;">2.0</div>
<div class="t" style="left:532.8571428571428px;top:231.75px;width:35.771428571428565px;height:14px;font-size:11px;line-height:14px;text-align:center;color:#231f20;">0.9</div>
<div class="t" style="left:568.6285714285714px;top:231.75px;width:35.771428571428565px;height:14px;font-size:11px;line-height:14px;text-align:center;color:#231f20;">4.1</div>
<div class="t" style="left:604.3999999999999px;top:231.75px;width:35.771428571428565px;height:14px;font-size:11px;line-height:14px;text-align:center;color:#231f20;">2.3</div>
<div class="t" style="left:643.7px;top:231.75px;width:29.49999999999998px;height:14px;font-size:11px;line-height:14px;text-align:right;color:#231f20;font-weight:bold;">12.0</div>
<div class="t" style="left:681.6px;top:231.75px;width:28.600000000000023px;height:14px;font-size:11px;line-height:14px;text-align:right;color:#231f20;font-weight:bold;">68.8</div>
<div class="t" style="left:8.9px;top:251.5px;width:59.4px;height:14px;font-size:11px;line-height:14px;text-align:center;color:#231f20;"><span style="letter-spacing:0.85px">2020</span>年卒</div>
<div class="t" style="left:68.0px;top:251.5px;width:30.599999999999994px;height:14px;font-size:11px;line-height:14px;text-align:right;color:#231f20;">988</div>
<div class="t" style="left:139.37142857142857px;top:251.5px;width:35.771428571428565px;height:14px;font-size:11px;line-height:14px;text-align:center;color:#231f20;">1.4</div>
<div class="t" style="left:175.1428571428571px;top:251.5px;width:35.771428571428565px;height:14px;font-size:11px;line-height:14px;text-align:center;color:#231f20;">0.1</div>
<div class="t" style="left:210.91428571428568px;top:251.5px;width:35.771428571428565px;height:14px;font-size:11px;line-height:14px;text-align:center;color:#231f20;">0.5</div>
<div class="t" style="left:246.68571428571425px;top:251.5px;width:35.771428571428565px;height:14px;font-size:11px;line-height:14px;text-align:center;color:#231f20;">1.5</div>
<div class="t" style="left:282.4571428571428px;top:251.5px;width:35.771428571428565px;height:14px;font-size:11px;line-height:14px;text-align:center;color:#231f20;">2.5</div>
<div class="t" style="left:318.2285714285714px;top:251.5px;width:35.771428571428565px;height:14px;font-size:11px;line-height:14px;text-align:center;color:#231f20;">15.4</div>
<div class="t" style="left:353.99999999999994px;top:251.5px;width:35.771428571428565px;height:14px;font-size:11px;line-height:14px;text-align:center;color:#231f20;">24.7</div>
<div class="t" style="left:389.7714285714285px;top:251.5px;width:35.771428571428565px;height:14px;font-size:11px;line-height:14px;text-align:center;color:#231f20;">20.3</div>
<div class="t" style="left:425.5428571428571px;top:251.5px;width:35.771428571428565px;height:14px;font-size:11px;line-height:14px;text-align:center;color:#231f20;">20.6</div>
<div class="t" style="left:461.3142857142857px;top:251.5px;width:35.771428571428565px;height:14px;font-size:11px;line-height:14px;text-align:center;color:#231f20;">3.1</div>
<div class="t" style="left:497.0857142857142px;top:251.5px;width:35.771428571428565px;height:14px;font-size:11px;line-height:14px;text-align:center;color:#231f20;">0.5</div>
<div class="t" style="left:532.8571428571428px;top:251.5px;width:35.771428571428565px;height:14px;font-size:11px;line-height:14px;text-align:center;color:#231f20;">0.6</div>
<div class="t" style="left:568.6285714285714px;top:251.5px;width:35.771428571428565px;height:14px;font-size:11px;line-height:14px;text-align:center;color:#231f20;">8.6</div>
<div class="t" style="left:643.7px;top:251.5px;width:29.49999999999998px;height:14px;font-size:11px;line-height:14px;text-align:right;color:#231f20;font-weight:bold;">6.1</div>
<div class="t" style="left:681.6px;top:251.5px;width:28.600000000000023px;height:14px;font-size:11px;line-height:14px;text-align:right;color:#231f20;font-weight:bold;">66.4</div>
<div class="t" style="left:8.9px;top:271.25px;width:59.4px;height:14px;font-size:11px;line-height:14px;text-align:center;color:#231f20;"><span style="letter-spacing:0.85px">2017</span>年卒</div>
<div class="t" style="left:68.0px;top:271.25px;width:30.599999999999994px;height:14px;font-size:11px;line-height:14px;text-align:right;color:#231f20;">986</div>
<div class="t" style="left:139.37142857142857px;top:271.25px;width:35.771428571428565px;height:14px;font-size:11px;line-height:14px;text-align:center;color:#231f20;">0.8</div>
<div class="t" style="left:175.1428571428571px;top:271.25px;width:35.771428571428565px;height:14px;font-size:11px;line-height:14px;text-align:center;color:#231f20;">0.0</div>
<div class="t" style="left:210.91428571428568px;top:271.25px;width:35.771428571428565px;height:14px;font-size:11px;line-height:14px;text-align:center;color:#231f20;">0.0</div>
<div class="t" style="left:246.68571428571425px;top:271.25px;width:35.771428571428565px;height:14px;font-size:11px;line-height:14px;text-align:center;color:#231f20;">0.1</div>
<div class="t" style="left:282.4571428571428px;top:271.25px;width:35.771428571428565px;height:14px;font-size:11px;line-height:14px;text-align:center;color:#231f20;">0.3</div>
<div class="t" style="left:318.2285714285714px;top:271.25px;width:35.771428571428565px;height:14px;font-size:11px;line-height:14px;text-align:center;color:#231f20;">5.3</div>
<div class="t" style="left:353.99999999999994px;top:271.25px;width:35.771428571428565px;height:14px;font-size:11px;line-height:14px;text-align:center;color:#231f20;">15.2</div>
<div class="t" style="left:389.7714285714285px;top:271.25px;width:35.771428571428565px;height:14px;font-size:11px;line-height:14px;text-align:center;color:#231f20;">20.8</div>
<div class="t" style="left:425.5428571428571px;top:271.25px;width:35.771428571428565px;height:14px;font-size:11px;line-height:14px;text-align:center;color:#231f20;">36.6</div>
<div class="t" style="left:461.3142857142857px;top:271.25px;width:35.771428571428565px;height:14px;font-size:11px;line-height:14px;text-align:center;color:#231f20;">8.7</div>
<div class="t" style="left:497.0857142857142px;top:271.25px;width:35.771428571428565px;height:14px;font-size:11px;line-height:14px;text-align:center;color:#231f20;">3.4</div>
<div class="t" style="left:532.8571428571428px;top:271.25px;width:35.771428571428565px;height:14px;font-size:11px;line-height:14px;text-align:center;color:#231f20;">1.4</div>
<div class="t" style="left:568.6285714285714px;top:271.25px;width:35.771428571428565px;height:14px;font-size:11px;line-height:14px;text-align:center;color:#231f20;">7.3</div>
<div class="t" style="left:643.7px;top:271.25px;width:29.49999999999998px;height:14px;font-size:11px;line-height:14px;text-align:right;color:#231f20;font-weight:bold;">1.2</div>
<div class="t" style="left:681.6px;top:271.25px;width:28.600000000000023px;height:14px;font-size:11px;line-height:14px;text-align:right;color:#231f20;font-weight:bold;">42.5</div>
<div class="t" style="left:8.0px;top:313.4px;width:12px;height:12px;font-size:9.2px;line-height:12px;text-align:center;color:#fff;-webkit-text-stroke:0.25px #fff;">2</div>
<div class="t" style="left:8.0px;top:333.6px;width:400px;height:10px;font-size:8px;line-height:10px;text-align:left;color:#2a2a2a;letter-spacing:0.27px;-webkit-text-stroke:0.1px #2a2a2a;">※該当卒年の採用実施企業／単一回答</div>
<div class="t" style="left:25.0px;top:310.5px;width:60px;height:16px;font-size:11.6px;line-height:16px;text-align:left;color:#1a1a1a;letter-spacing:0.1px;-webkit-text-stroke:0.3px #1a1a1a;">面接</div>
<div class="t" style="left:42.8px;top:310.5px;width:60px;height:16px;font-size:11.6px;line-height:16px;text-align:left;color:#1a1a1a;letter-spacing:0.1px;-webkit-text-stroke:0.3px #1a1a1a;">（</div>
<div class="t" style="left:54.6px;top:310.5px;width:60px;height:16px;font-size:11.6px;line-height:16px;text-align:left;color:#1a1a1a;letter-spacing:0.1px;-webkit-text-stroke:0.3px #1a1a1a;">対面</div>
<div class="t" style="left:78.3px;top:310.5px;width:60px;height:16px;font-size:11.6px;line-height:16px;text-align:left;color:#1a1a1a;letter-spacing:0.1px;-webkit-text-stroke:0.3px #1a1a1a;">、</div>
<div class="t" style="left:85.4px;top:310.5px;width:60px;height:16px;font-size:11.6px;line-height:16px;text-align:left;color:#1a1a1a;letter-spacing:0.6px;-webkit-text-stroke:0.3px #1a1a1a;">Web</div>
<div class="t" style="left:112.0px;top:310.5px;width:60px;height:16px;font-size:11.6px;line-height:16px;text-align:left;color:#1a1a1a;letter-spacing:0.1px;-webkit-text-stroke:0.3px #1a1a1a;">）</div>
<div class="t" style="left:119.6px;top:310.5px;width:60px;height:16px;font-size:11.6px;line-height:16px;text-align:left;color:#1a1a1a;letter-spacing:0.1px;-webkit-text-stroke:0.3px #1a1a1a;">開始時期</div>
<div class="t" style="left:137.1px;top:346.5px;width:235.89999999999998px;height:18.0px;font-size:10.8px;line-height:18.0px;text-align:center;color:#231f20;letter-spacing:0.9px;">卒業年次前年</div>
<div class="t" style="left:374.2px;top:346.5px;width:235.89999999999998px;height:18.0px;font-size:10.8px;line-height:18.0px;text-align:center;color:#231f20;letter-spacing:2.0px;">卒業年次</div>
<div class="t" style="left:133.6px;top:366.8px;width:33.699999999999996px;height:22.4px;font-size:10.3px;line-height:11.2px;text-align:center;color:#231f20;letter-spacing:0.35px;text-indent:0.35px;">9月<br>以前</div>
<div class="t" style="left:167.29999999999998px;top:372.4px;width:33.699999999999996px;height:11.2px;font-size:10.3px;line-height:11.2px;text-align:center;color:#231f20;letter-spacing:0.35px;text-indent:0.35px;">10月</div>
<div class="t" style="left:201.0px;top:372.4px;width:33.699999999999996px;height:11.2px;font-size:10.3px;line-height:11.2px;text-align:center;color:#231f20;letter-spacing:0.35px;text-indent:0.35px;">11月</div>
<div class="t" style="left:234.7px;top:372.4px;width:33.699999999999996px;height:11.2px;font-size:10.3px;line-height:11.2px;text-align:center;color:#231f20;letter-spacing:0.35px;text-indent:0.35px;">12月</div>
<div class="t" style="left:268.4px;top:372.4px;width:33.699999999999996px;height:11.2px;font-size:10.3px;line-height:11.2px;text-align:center;color:#231f20;letter-spacing:0.35px;text-indent:0.35px;">1月</div>
<div class="t" style="left:302.09999999999997px;top:372.4px;width:33.699999999999996px;height:11.2px;font-size:10.3px;line-height:11.2px;text-align:center;color:#231f20;letter-spacing:0.35px;text-indent:0.35px;">2月</div>
<div class="t" style="left:335.79999999999995px;top:372.4px;width:33.699999999999996px;height:11.2px;font-size:10.3px;line-height:11.2px;text-align:center;color:#231f20;letter-spacing:0.35px;text-indent:0.35px;">3月</div>
<div class="t" style="left:369.5px;top:372.4px;width:33.699999999999996px;height:11.2px;font-size:10.3px;line-height:11.2px;text-align:center;color:#231f20;letter-spacing:0.35px;text-indent:0.35px;">4月</div>
<div class="t" style="left:403.19999999999993px;top:372.4px;width:33.699999999999996px;height:11.2px;font-size:10.3px;line-height:11.2px;text-align:center;color:#231f20;letter-spacing:0.35px;text-indent:0.35px;">5月</div>
<div class="t" style="left:436.9px;top:372.4px;width:33.699999999999996px;height:11.2px;font-size:10.3px;line-height:11.2px;text-align:center;color:#231f20;letter-spacing:0.35px;text-indent:0.35px;">6月</div>
<div class="t" style="left:470.5999999999999px;top:372.4px;width:33.699999999999996px;height:11.2px;font-size:10.3px;line-height:11.2px;text-align:center;color:#231f20;letter-spacing:0.35px;text-indent:0.35px;">7月</div>
<div class="t" style="left:504.29999999999995px;top:372.4px;width:33.699999999999996px;height:11.2px;font-size:10.3px;line-height:11.2px;text-align:center;color:#231f20;letter-spacing:0.35px;text-indent:0.35px;">8月</div>
<div class="t" style="left:538.0px;top:372.4px;width:33.699999999999996px;height:11.2px;font-size:10.3px;line-height:11.2px;text-align:center;color:#231f20;letter-spacing:0.35px;text-indent:0.35px;">9月</div>
<div class="t" style="left:571.6999999999999px;top:366.8px;width:33.699999999999996px;height:22.4px;font-size:10.3px;line-height:11.2px;text-align:center;color:#231f20;letter-spacing:0.35px;text-indent:0.35px;">10月<br>以降</div>
<div class="t" style="left:605.4px;top:358.90000000000003px;width:33.699999999999996px;height:19.8px;font-size:9px;line-height:9.9px;text-align:center;color:#231f20;letter-spacing:-0.5px;text-indent:-0.5px;">分から<br>ない</div>
<div class="t" style="left:95.2px;top:372.0px;width:36.099999999999994px;height:11.2px;font-size:11px;line-height:11.2px;text-align:center;color:#231f20;text-indent:0px;">n</div>
<div class="t" style="left:643.7px;top:348.9px;width:37.89999999999998px;height:39.0px;font-size:9.2px;line-height:13.0px;text-align:center;color:#231f20;letter-spacing:0.35px;text-indent:0.35px;"><span style="font-size:10.6px">2月</span><br>までの<br>累計</div>
<div class="t" style="left:681.6px;top:348.9px;width:37.60000000000002px;height:39.0px;font-size:9.2px;line-height:13.0px;text-align:center;color:#231f20;letter-spacing:0.35px;text-indent:0.35px;"><span style="font-size:10.6px">5月</span><br>までの<br>累計</div>
<div class="t" style="left:689.5px;top:336.2px;width:29px;height:10px;font-size:8.3px;line-height:10px;text-align:right;color:#444;">(%)</div>
<div class="t" style="left:36.599999999999994px;top:392.1px;width:61.2px;height:14px;font-size:11px;line-height:14px;text-align:center;color:#231f20;"><span style="letter-spacing:0.85px">2024</span>年卒</div>
<div class="t" style="left:97.5px;top:392.1px;width:31.499999999999993px;height:14px;font-size:11px;line-height:14px;text-align:right;color:#231f20;">1,313</div>
<div class="t" style="left:133.6px;top:392.1px;width:33.699999999999996px;height:14px;font-size:11px;line-height:14px;text-align:center;color:#231f20;">1.1</div>
<div class="t" style="left:167.29999999999998px;top:392.1px;width:33.699999999999996px;height:14px;font-size:11px;line-height:14px;text-align:center;color:#231f20;">1.2</div>
<div class="t" style="left:201.0px;top:392.1px;width:33.699999999999996px;height:14px;font-size:11px;line-height:14px;text-align:center;color:#231f20;">2.1</div>
<div class="t" style="left:234.7px;top:392.1px;width:33.699999999999996px;height:14px;font-size:11px;line-height:14px;text-align:center;color:#231f20;">4.1</div>
<div class="t" style="left:268.4px;top:392.1px;width:33.699999999999996px;height:14px;font-size:11px;line-height:14px;text-align:center;color:#231f20;">6.9</div>
<div class="t" style="left:302.09999999999997px;top:392.1px;width:33.699999999999996px;height:14px;font-size:11px;line-height:14px;text-align:center;color:#231f20;">10.5</div>
<div class="t" style="left:335.79999999999995px;top:392.1px;width:33.699999999999996px;height:14px;font-size:11px;line-height:14px;text-align:center;color:#231f20;">27.0</div>
<div class="t" style="left:369.5px;top:392.1px;width:33.699999999999996px;height:14px;font-size:11px;line-height:14px;text-align:center;color:#231f20;">20.8</div>
<div class="t" style="left:403.19999999999993px;top:392.1px;width:33.699999999999996px;height:14px;font-size:11px;line-height:14px;text-align:center;color:#231f20;">10.4</div>
<div class="t" style="left:436.9px;top:392.1px;width:33.699999999999996px;height:14px;font-size:11px;line-height:14px;text-align:center;color:#231f20;">7.7</div>
<div class="t" style="left:470.5999999999999px;top:392.1px;width:33.699999999999996px;height:14px;font-size:11px;line-height:14px;text-align:center;color:#231f20;">1.4</div>
<div class="t" style="left:504.29999999999995px;top:392.1px;width:33.699999999999996px;height:14px;font-size:11px;line-height:14px;text-align:center;color:#231f20;">0.8</div>
<div class="t" style="left:538.0px;top:392.1px;width:33.699999999999996px;height:14px;font-size:11px;line-height:14px;text-align:center;color:#231f20;">0.9</div>
<div class="t" style="left:571.6999999999999px;top:392.1px;width:33.699999999999996px;height:14px;font-size:11px;line-height:14px;text-align:center;color:#231f20;">3.6</div>
<div class="t" style="left:605.4px;top:392.1px;width:33.699999999999996px;height:14px;font-size:11px;line-height:14px;text-align:center;color:#231f20;">1.6</div>
<div class="t" style="left:643.7px;top:392.1px;width:29.49999999999998px;height:14px;font-size:11px;line-height:14px;text-align:right;color:#231f20;font-weight:bold;">26.0</div>
<div class="t" style="left:681.6px;top:392.1px;width:28.600000000000023px;height:14px;font-size:11px;line-height:14px;text-align:right;color:#231f20;font-weight:bold;">84.1</div>
<div class="t" style="left:36.599999999999994px;top:412.05px;width:61.2px;height:14px;font-size:11px;line-height:14px;text-align:center;color:#231f20;"><span style="letter-spacing:0.85px">2023</span>年卒</div>
<div class="t" style="left:97.5px;top:412.05px;width:31.499999999999993px;height:14px;font-size:11px;line-height:14px;text-align:right;color:#231f20;">1,307</div>
<div class="t" style="left:133.6px;top:412.05px;width:33.699999999999996px;height:14px;font-size:11px;line-height:14px;text-align:center;color:#231f20;">0.8</div>
<div class="t" style="left:167.29999999999998px;top:412.05px;width:33.699999999999996px;height:14px;font-size:11px;line-height:14px;text-align:center;color:#231f20;">0.5</div>
<div class="t" style="left:201.0px;top:412.05px;width:33.699999999999996px;height:14px;font-size:11px;line-height:14px;text-align:center;color:#231f20;">0.8</div>
<div class="t" style="left:234.7px;top:412.05px;width:33.699999999999996px;height:14px;font-size:11px;line-height:14px;text-align:center;color:#231f20;">3.1</div>
<div class="t" style="left:268.4px;top:412.05px;width:33.699999999999996px;height:14px;font-size:11px;line-height:14px;text-align:center;color:#231f20;">4.7</div>
<div class="t" style="left:302.09999999999997px;top:412.05px;width:33.699999999999996px;height:14px;font-size:11px;line-height:14px;text-align:center;color:#231f20;">7.3</div>
<div class="t" style="left:335.79999999999995px;top:412.05px;width:33.699999999999996px;height:14px;font-size:11px;line-height:14px;text-align:center;color:#231f20;">26.5</div>
<div class="t" style="left:369.5px;top:412.05px;width:33.699999999999996px;height:14px;font-size:11px;line-height:14px;text-align:center;color:#231f20;">21.7</div>
<div class="t" style="left:403.19999999999993px;top:412.05px;width:33.699999999999996px;height:14px;font-size:11px;line-height:14px;text-align:center;color:#231f20;">13.4</div>
<div class="t" style="left:436.9px;top:412.05px;width:33.699999999999996px;height:14px;font-size:11px;line-height:14px;text-align:center;color:#231f20;">9.5</div>
<div class="t" style="left:470.5999999999999px;top:412.05px;width:33.699999999999996px;height:14px;font-size:11px;line-height:14px;text-align:center;color:#231f20;">3.0</div>
<div class="t" style="left:504.29999999999995px;top:412.05px;width:33.699999999999996px;height:14px;font-size:11px;line-height:14px;text-align:center;color:#231f20;">1.1</div>
<div class="t" style="left:538.0px;top:412.05px;width:33.699999999999996px;height:14px;font-size:11px;line-height:14px;text-align:center;color:#231f20;">1.1</div>
<div class="t" style="left:571.6999999999999px;top:412.05px;width:33.699999999999996px;height:14px;font-size:11px;line-height:14px;text-align:center;color:#231f20;">3.6</div>
<div class="t" style="left:605.4px;top:412.05px;width:33.699999999999996px;height:14px;font-size:11px;line-height:14px;text-align:center;color:#231f20;">3.1</div>
<div class="t" style="left:643.7px;top:412.05px;width:29.49999999999998px;height:14px;font-size:11px;line-height:14px;text-align:right;color:#231f20;font-weight:bold;">17.1</div>
<div class="t" style="left:681.6px;top:412.05px;width:28.600000000000023px;height:14px;font-size:11px;line-height:14px;text-align:right;color:#231f20;font-weight:bold;">78.6</div>
<div class="t" style="left:36.599999999999994px;top:437.1px;width:61.2px;height:14px;font-size:11px;line-height:14px;text-align:center;color:#231f20;"><span style="letter-spacing:0.85px">2024</span>年卒</div>
<div class="t" style="left:97.5px;top:437.1px;width:31.499999999999993px;height:14px;font-size:11px;line-height:14px;text-align:right;color:#231f20;">976</div>
<div class="t" style="left:133.6px;top:437.1px;width:33.699999999999996px;height:14px;font-size:11px;line-height:14px;text-align:center;color:#231f20;">1.0</div>
<div class="t" style="left:167.29999999999998px;top:437.1px;width:33.699999999999996px;height:14px;font-size:11px;line-height:14px;text-align:center;color:#231f20;">2.6</div>
<div class="t" style="left:201.0px;top:437.1px;width:33.699999999999996px;height:14px;font-size:11px;line-height:14px;text-align:center;color:#231f20;">2.9</div>
<div class="t" style="left:234.7px;top:437.1px;width:33.699999999999996px;height:14px;font-size:11px;line-height:14px;text-align:center;color:#231f20;">5.9</div>
<div class="t" style="left:268.4px;top:437.1px;width:33.699999999999996px;height:14px;font-size:11px;line-height:14px;text-align:center;color:#231f20;">9.7</div>
<div class="t" style="left:302.09999999999997px;top:437.1px;width:33.699999999999996px;height:14px;font-size:11px;line-height:14px;text-align:center;color:#231f20;">13.2</div>
<div class="t" style="left:335.79999999999995px;top:437.1px;width:33.699999999999996px;height:14px;font-size:11px;line-height:14px;text-align:center;color:#231f20;">31.7</div>
<div class="t" style="left:369.5px;top:437.1px;width:33.699999999999996px;height:14px;font-size:11px;line-height:14px;text-align:center;color:#231f20;">17.1</div>
<div class="t" style="left:403.19999999999993px;top:437.1px;width:33.699999999999996px;height:14px;font-size:11px;line-height:14px;text-align:center;color:#231f20;">5.2</div>
<div class="t" style="left:436.9px;top:437.1px;width:33.699999999999996px;height:14px;font-size:11px;line-height:14px;text-align:center;color:#231f20;">3.9</div>
<div class="t" style="left:470.5999999999999px;top:437.1px;width:33.699999999999996px;height:14px;font-size:11px;line-height:14px;text-align:center;color:#231f20;">0.3</div>
<div class="t" style="left:504.29999999999995px;top:437.1px;width:33.699999999999996px;height:14px;font-size:11px;line-height:14px;text-align:center;color:#231f20;">0.3</div>
<div class="t" style="left:538.0px;top:437.1px;width:33.699999999999996px;height:14px;font-size:11px;line-height:14px;text-align:center;color:#231f20;">0.6</div>
<div class="t" style="left:571.6999999999999px;top:437.1px;width:33.699999999999996px;height:14px;font-size:11px;line-height:14px;text-align:center;color:#231f20;">3.3</div>
<div class="t" style="left:605.4px;top:437.1px;width:33.699999999999996px;height:14px;font-size:11px;line-height:14px;text-align:center;color:#231f20;">2.3</div>
<div class="t" style="left:643.7px;top:437.1px;width:29.49999999999998px;height:14px;font-size:11px;line-height:14px;text-align:right;color:#231f20;font-weight:bold;">35.3</div>
<div class="t" style="left:681.6px;top:437.1px;width:28.600000000000023px;height:14px;font-size:11px;line-height:14px;text-align:right;color:#231f20;font-weight:bold;">89.3</div>
<div class="t" style="left:36.599999999999994px;top:456.7px;width:61.2px;height:14px;font-size:11px;line-height:14px;text-align:center;color:#231f20;"><span style="letter-spacing:0.85px">2023</span>年卒</div>
<div class="t" style="left:97.5px;top:456.7px;width:31.499999999999993px;height:14px;font-size:11px;line-height:14px;text-align:right;color:#231f20;">1,131</div>
<div class="t" style="left:133.6px;top:456.7px;width:33.699999999999996px;height:14px;font-size:11px;line-height:14px;text-align:center;color:#231f20;">0.5</div>
<div class="t" style="left:167.29999999999998px;top:456.7px;width:33.699999999999996px;height:14px;font-size:11px;line-height:14px;text-align:center;color:#231f20;">1.0</div>
<div class="t" style="left:201.0px;top:456.7px;width:33.699999999999996px;height:14px;font-size:11px;line-height:14px;text-align:center;color:#231f20;">1.8</div>
<div class="t" style="left:234.7px;top:456.7px;width:33.699999999999996px;height:14px;font-size:11px;line-height:14px;text-align:center;color:#231f20;">4.5</div>
<div class="t" style="left:268.4px;top:456.7px;width:33.699999999999996px;height:14px;font-size:11px;line-height:14px;text-align:center;color:#231f20;">7.1</div>
<div class="t" style="left:302.09999999999997px;top:456.7px;width:33.699999999999996px;height:14px;font-size:11px;line-height:14px;text-align:center;color:#231f20;">10.9</div>
<div class="t" style="left:335.79999999999995px;top:456.7px;width:33.699999999999996px;height:14px;font-size:11px;line-height:14px;text-align:center;color:#231f20;">30.5</div>
<div class="t" style="left:369.5px;top:456.7px;width:33.699999999999996px;height:14px;font-size:11px;line-height:14px;text-align:center;color:#231f20;">20.4</div>
<div class="t" style="left:403.19999999999993px;top:456.7px;width:33.699999999999996px;height:14px;font-size:11px;line-height:14px;text-align:center;color:#231f20;">8.2</div>
<div class="t" style="left:436.9px;top:456.7px;width:33.699999999999996px;height:14px;font-size:11px;line-height:14px;text-align:center;color:#231f20;">4.0</div>
<div class="t" style="left:470.5999999999999px;top:456.7px;width:33.699999999999996px;height:14px;font-size:11px;line-height:14px;text-align:center;color:#231f20;">1.7</div>
<div class="t" style="left:504.29999999999995px;top:456.7px;width:33.699999999999996px;height:14px;font-size:11px;line-height:14px;text-align:center;color:#231f20;">0.3</div>
<div class="t" style="left:538.0px;top:456.7px;width:33.699999999999996px;height:14px;font-size:11px;line-height:14px;text-align:center;color:#231f20;">0.4</div>
<div class="t" style="left:571.6999999999999px;top:456.7px;width:33.699999999999996px;height:14px;font-size:11px;line-height:14px;text-align:center;color:#231f20;">2.9</div>
<div class="t" style="left:605.4px;top:456.7px;width:33.699999999999996px;height:14px;font-size:11px;line-height:14px;text-align:center;color:#231f20;">5.8</div>
<div class="t" style="left:643.7px;top:456.7px;width:29.49999999999998px;height:14px;font-size:11px;line-height:14px;text-align:right;color:#231f20;font-weight:bold;">25.7</div>
<div class="t" style="left:681.6px;top:456.7px;width:28.600000000000023px;height:14px;font-size:11px;line-height:14px;text-align:right;color:#231f20;font-weight:bold;">84.9</div>
<div class="t" style="left:8.2px;top:397.75px;width:28.099999999999998px;height:22px;font-size:10px;line-height:11px;text-align:center;color:#fff;">対<br>面</div>
<div class="t" style="left:8.2px;top:439.9px;width:28.099999999999998px;height:27px;font-size:10.5px;line-height:9px;text-align:center;color:#fff;">W<br>e<br>b</div>
</body></html>
